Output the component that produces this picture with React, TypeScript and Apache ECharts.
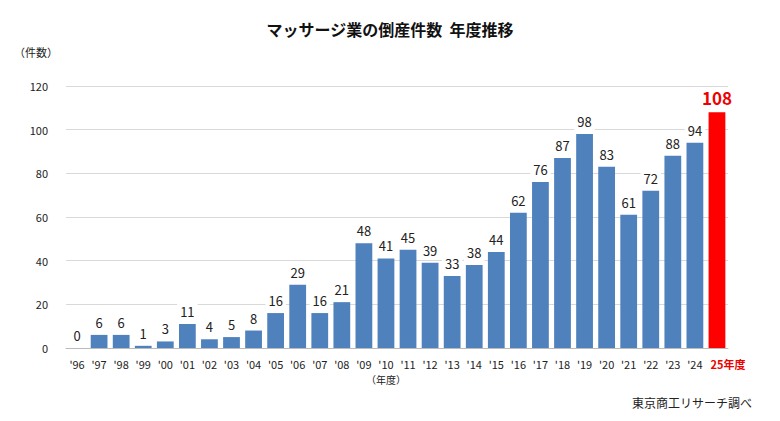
import React, { useEffect, useRef } from "react";
import * as echarts from "echarts";

const years = ["'96","'97","'98","'99","'00","'01","'02","'03","'04","'05","'06","'07","'08","'09","'10","'11","'12","'13","'14","'15","'16","'17","'18","'19","'20","'21","'22","'23","'24","25年度"];
const counts = [0,6,6,1,3,11,4,5,8,16,29,16,21,48,41,45,39,33,38,44,62,76,87,98,83,61,72,88,94,108];

const FONT = "'Noto Sans CJK JP', 'Noto Sans', sans-serif";

const App = () => {
  const ref = useRef<HTMLDivElement>(null);

  useEffect(() => {
    if (!ref.current) return;
    const chart = echarts.init(ref.current, null, { renderer: "svg" });
    const last = counts.length - 1;
    chart.setOption({
      animation: false,
      textStyle: { fontFamily: FONT },
      title: {
        text: "マッサージ業の倒産件数  年度推移",
        left: "center",
        top: 8,
        textStyle: { fontSize: 16, fontWeight: "bold", color: "#111", fontFamily: FONT },
      },
      grid: { left: 58, right: 44, top: 78, bottom: 65 },
      xAxis: {
        type: "category",
        data: years,
        axisLine: { lineStyle: { color: "#bbb" } },
        axisTick: { show: false },
        axisLabel: {
          fontSize: 11,
          color: "#222",
          interval: 0,
          margin: 10,
          formatter: (v: string, i: number) => (i === last ? "{red|" + v + "}" : v),
          rich: { red: { color: "#e00", fontWeight: "bold", fontSize: 11, padding: [0, 0, 0, 22] } },
        },
      },
      yAxis: {
        type: "value",
        min: 0,
        max: 120,
        interval: 20,
        axisLine: { show: false },
        axisTick: { show: false },
        axisLabel: { fontSize: 11, color: "#222", margin: 18 },
        splitLine: { lineStyle: { color: "#d9d9d9" } },
      },
      series: [
        {
          type: "bar",
          barCategoryGap: "24%",
          data: counts.map((v, i) =>
            i === last
              ? {
                  value: v,
                  itemStyle: { color: "#ff0000" },
                  label: { color: "#e00", fontSize: 17, fontWeight: "bold" },
                }
              : v
          ),
          itemStyle: { color: "#4f81bd" },
          label: {
            show: true,
            position: "top",
            distance: 4,
            fontSize: 13,
            color: "#222",
            backgroundColor: "#fff",
            padding: [2, 3],
          },
        },
      ],
      graphic: [
        { type: "text", left: 6, top: 38, style: { text: "（件数）", fontSize: 11, fill: "#222", fontFamily: FONT } },
        { type: "text", left: 358, top: 366, style: { text: "（年度）", fontSize: 10, fill: "#222", fontFamily: FONT } },
        { type: "text", right: 20, top: 388, style: { text: "東京商工リサーチ調べ", fontSize: 12, fill: "#222", fontFamily: FONT } },
      ],
    });
    return () => chart.dispose();
  }, []);

  return <div ref={ref} style={{ width: 764, height: 405 }} />;
};

export default App;
